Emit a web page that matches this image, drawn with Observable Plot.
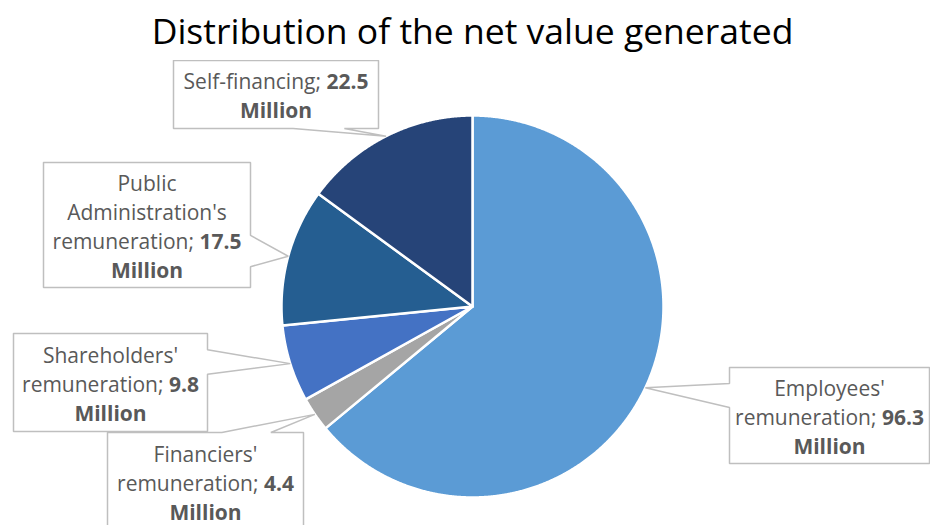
<!DOCTYPE html>
<html>
<head>
<meta charset="utf-8">
<script src="https://cdn.jsdelivr.net/npm/d3@7"></script>
<script src="https://cdn.jsdelivr.net/npm/@observablehq/plot@0.6"></script>
<style>
  body { margin: 0; background: #fff; font-family: "Open Sans", sans-serif; }
  #title { width: 930px; height: 60px; line-height: 60px; text-align: center; font-size: 35.5px; color: #000;
           padding-left: 15px; box-sizing: border-box; white-space: nowrap; }
</style>
</head>
<body>
<div id="title">Distribution of the net value generated</div>
<div id="chart"></div>
<script>
// ---------------- data ----------------
const categories = ["Employees' remuneration", "Financiers' remuneration", "Shareholders' remuneration",
                    "Public Administration's remuneration", "Self-financing"];
const values = [96.3, 4.4, 9.8, 17.5, 22.5];
const unit = "Million";
const colors = ["#5B9BD5", "#A5A5A5", "#4472C4", "#255E91", "#264478"];

// ---------------- layout (page coordinates) ----------------
const pie = {cx: 472, cy: 306, r: 191};
// label boxes [x0, y0, x1, y1] and words per line
const boxes = [[729, 367, 929, 463], [107, 432, 303, 530], [13, 333, 207, 431], [43, 162, 250, 287], [173, 60, 378, 128]];
const wordsPerLine = [[1, 2, 1], [1, 2, 1], [1, 2, 1], [1, 1, 2, 1], [2, 1]];
const fontSize = 21, lineHeightPx = 29;

// ---------------- geometry from data ----------------
const arcs = d3.pie().sort(null).value(d => d)(values);
const pt = (a, rr) => [pie.cx + rr * Math.sin(a), pie.cy - rr * Math.cos(a)];

const slicePts = [];
arcs.forEach((a, i) => {
  const name = categories[i];
  slicePts.push({name, x: pie.cx, y: pie.cy});
  const n = Math.max(2, Math.ceil((a.endAngle - a.startAngle) / (Math.PI / 720)));
  for (let k = 0; k <= n; k++) {
    const ang = a.startAngle + (a.endAngle - a.startAngle) * k / n;
    const [x, y] = pt(ang, pie.r);
    slicePts.push({name, x, y});
  }
  slicePts.push({name, x: pie.cx, y: pie.cy});
});

function callout(box, tip) {
  const [x0, y0, x1, y1] = box;
  const w = x1 - x0, h = y1 - y0, hc = (x0 + x1) / 2, vc = (y0 + y1) / 2;
  const dxPos = tip[0] - hc, dyPos = tip[1] - vc;
  const dx = dxPos * h, dy = dyPos * w;
  const xg1 = dxPos > 0 ? 7 : 2, xg2 = dxPos > 0 ? 10 : 5;
  const yg1 = dyPos > 0 ? 7 : 2, yg2 = dyPos > 0 ? 10 : 5;
  const bx1 = x0 + w * xg1 / 12, bx2 = x0 + w * xg2 / 12;
  const by1 = y0 + h * yg1 / 12, by2 = y0 + h * yg2 / 12;
  const side = Math.abs(dx) > Math.abs(dy) ? (dxPos > 0 ? "right" : "left") : (dyPos > 0 ? "bottom" : "top");
  const p = [[x0, y0]];
  if (side === "top") p.push([bx1, y0], tip, [bx2, y0]);
  p.push([x1, y0]);
  if (side === "right") p.push([x1, by1], tip, [x1, by2]);
  p.push([x1, y1]);
  if (side === "bottom") p.push([bx2, y1], tip, [bx1, y1]);
  p.push([x0, y1]);
  if (side === "left") p.push([x0, by2], tip, [x0, by1]);
  p.push([x0, y0]);
  return p;
}

const calloutPts = [];
const labels = [];
arcs.forEach((a, i) => {
  const mid = (a.startAngle + a.endAngle) / 2;
  const tip = pt(mid, pie.r);
  callout(boxes[i], tip).forEach(([x, y]) => calloutPts.push({id: i, x, y}));
  const catWords = categories[i].split(" ");
  catWords[catWords.length - 1] += ";";
  const all = catWords.concat([`**${values[i]}**`, `**${unit}**`]);
  const lines = [];
  let k = 0;
  for (const n of wordsPerLine[i]) { lines.push(all.slice(k, k + n).join(" ")); k += n; }
  const [x0, y0, x1, y1] = boxes[i];
  labels.push({x: (x0 + x1) / 2, y: (y0 + y1) / 2, text: lines.join("\n")});
});

// ---------------- plot ----------------
const chart = Plot.plot({
  width: 930,
  height: 465,
  margin: 0,
  x: {domain: [0, 930], range: [0, 930], axis: null},
  y: {domain: [60, 525], range: [0, 465], axis: null},
  color: {domain: categories, range: colors},
  style: {fontFamily: "Open Sans, sans-serif", background: "#fff", overflow: "hidden"},
  marks: [
    Plot.line(slicePts, {x: "x", y: "y", z: "name", fill: "name", stroke: "#fff", strokeWidth: 2.5, strokeLinejoin: "round"}),
    Plot.line(calloutPts, {x: "x", y: "y", z: "id", fill: "#fff", stroke: "#BFBFBF", strokeWidth: 1.5, strokeLinejoin: "miter"}),
    Plot.text(labels, {x: "x", y: "y", text: "text", fontSize, lineHeight: lineHeightPx / fontSize,
                       fill: "#595959", textAnchor: "middle", lineAnchor: "middle", fontFamily: "Open Sans, sans-serif"})
  ]
});

// bold the value and unit parts
chart.querySelectorAll("tspan, text").forEach(el => {
  if (el.children.length) return;
  const s = el.textContent;
  if (!s.includes("**")) return;
  el.textContent = "";
  s.split(/(\*\*[^*]+\*\*)/).forEach(part => {
    if (!part) return;
    const t = document.createElementNS("http://www.w3.org/2000/svg", "tspan");
    if (part.startsWith("**")) { t.textContent = part.slice(2, -2); t.setAttribute("font-weight", "bold"); }
    else t.textContent = part;
    el.appendChild(t);
  });
});

document.getElementById("chart").appendChild(chart);
</script>
</body>
</html>
